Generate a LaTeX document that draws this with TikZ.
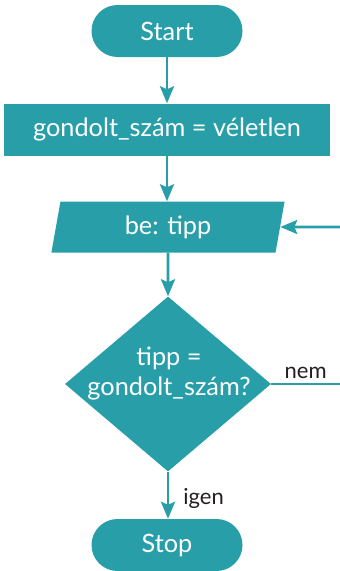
\documentclass[tikz,border=0pt]{standalone}
\usepackage{fontspec}
\setmainfont{Lato}
\usetikzlibrary{shapes.geometric,arrows.meta}
\definecolor{flowteal}{HTML}{289FA8}
\definecolor{labelgray}{HTML}{231F20}
\tikzset{
  box/.style={fill=flowteal, text=white, inner sep=0pt, font=\fontsize{25.3}{30}\selectfont},
  term/.style={box, rectangle, rounded corners=26pt, minimum width=151pt, minimum height=52pt},
  proc/.style={box, rectangle, minimum width=326pt, minimum height=52pt},
  iobox/.style={box, trapezium, trapezium left angle=81, trapezium right angle=99,
     trapezium stretches=true, minimum width=235pt, minimum height=51pt},
  decision/.style={fill=flowteal, diamond, inner sep=0pt, minimum width=206pt, minimum height=175pt},
  dectxt/.style={text=white, inner sep=0pt, align=center, font=\fontsize{25.3}{30}\selectfont},
  conn/.style={draw=flowteal, line width=2.8pt, -{Stealth[length=17pt,width=14pt,inset=3pt]}},
  plainconn/.style={draw=flowteal, line width=2.8pt},
  lbl/.style={text=labelgray, font=\fontsize{22}{26}\selectfont, inner sep=2pt}
}
\begin{document}
\begin{tikzpicture}[x=1pt,y=-1pt]
\useasboundingbox (0,0) rectangle (340,571);
\node[term] (start) at (167,31) {Start};
\node[proc] (init) at (167,129.5) {gondolt\_szám = véletlen};
\node[iobox] (io) at (168,227) {be: tipp};
\node[decision] (dec) at (168,384) {};
\node[dectxt] (dectext) at (169,374) {tipp =\\gondolt\_szám?};
\node[term] (stop) at (167,545) {Stop};
\coordinate (inR) at (340,227);
\coordinate (nemR) at (340,384);
\draw[conn] (start) -- (init);
\draw[conn] (init) -- (init|-io.north);
\draw[conn] (io) -- (dec);
\draw[conn] (dec.south) -- (dec.south|-stop.north) node[lbl, midway, right=12pt, yshift=-3pt] {igen};
\draw[plainconn] (dec.east) -- (nemR) node[lbl, midway, above=2pt] {nem};
\draw[conn] (inR) -- (io.east);
\end{tikzpicture}
\end{document}
